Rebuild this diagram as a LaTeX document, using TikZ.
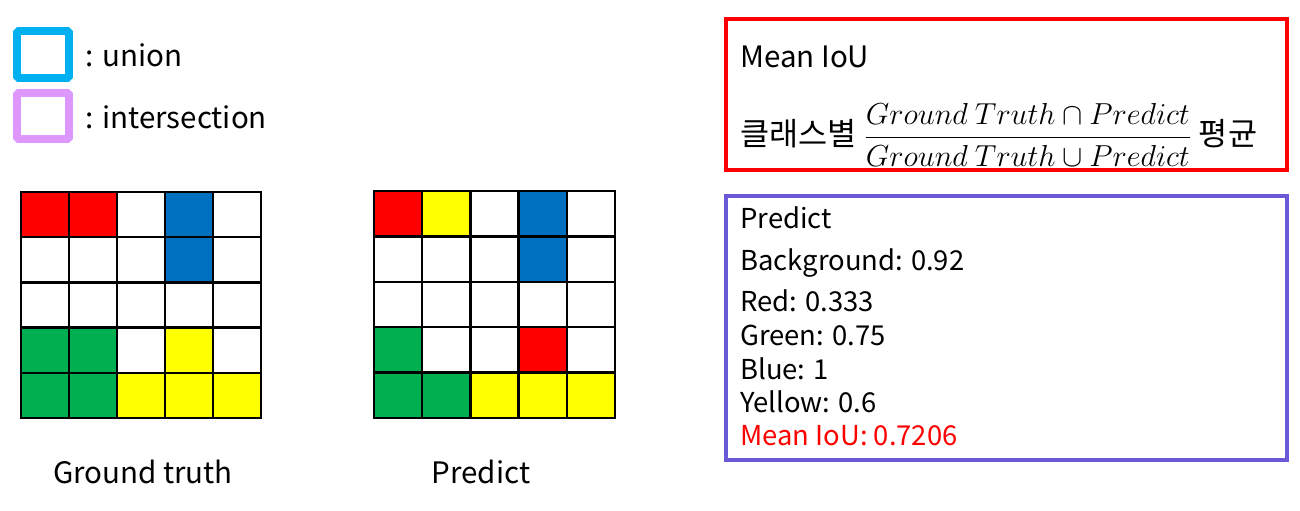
\documentclass[tikz,border=0pt]{standalone}
\usepackage{amsmath}
\usepackage{fontspec}
\setmainfont{Noto Sans CJK KR}
\usepackage{tikz}
\usepackage{xcolor}
\definecolor{gtred}{HTML}{FF0000}
\definecolor{gtblue}{HTML}{0070C0}
\definecolor{gtgreen}{HTML}{00B050}
\definecolor{gtyellow}{HTML}{FFFF00}
\definecolor{unionblue}{HTML}{00B0F0}
\definecolor{interpink}{HTML}{DD97FF}
\definecolor{boxpurple}{HTML}{6A5AD8}

\tikzset{
  txt/.style={inner sep=0pt, anchor=west, font=\fontsize{16.8pt}{20pt}\selectfont},
  score/.style={inner sep=0pt, anchor=west, font=\fontsize{15.6pt}{19pt}\selectfont},
  gridcap/.style={inner sep=0pt, font=\fontsize{16.8pt}{20pt}\selectfont},
  gridline/.style={line width=1.4pt, line cap=rect},
}

\begin{document}
\begin{tikzpicture}[x=0.02cm, y=-0.02cm]
  \useasboundingbox (0,0) rectangle (1300,510);

  % legend
  \draw[unionblue, line width=4.5pt, rounded corners=1pt] (17,31) rectangle (69,78);
  \draw[interpink, line width=4.5pt, rounded corners=1pt] (17,93) rectangle (69,139);
  \node[txt] (unionlbl) at (85,55) {: union};
  \node[txt] (interlbl) at (85,117) {: intersection};

  % ground truth grid
  \begin{scope}[shift={(21,192)}, xscale=48, yscale=45.2]
    \foreach \c/\r/\col in {0/0/gtred, 1/0/gtred, 3/0/gtblue, 3/1/gtblue,
                            0/3/gtgreen, 1/3/gtgreen, 3/3/gtyellow,
                            0/4/gtgreen, 1/4/gtgreen, 2/4/gtyellow, 3/4/gtyellow, 4/4/gtyellow} {
      \fill[\col] (\c,\r) rectangle +(1,1);
    }
    \foreach \i in {0,...,5} {
      \draw[gridline] (\i,0) -- (\i,5);
      \draw[gridline] (0,\i) -- (5,\i);
    }
  \end{scope}
  \node[gridcap] (gtlbl) at (143,472) {Ground truth};

  % predict grid
  \begin{scope}[shift={(374,191)}, xscale=48.2, yscale=45.4]
    \foreach \c/\r/\col in {0/0/gtred, 1/0/gtyellow, 3/0/gtblue, 3/1/gtblue,
                            0/3/gtgreen, 3/3/gtred,
                            0/4/gtgreen, 1/4/gtgreen, 2/4/gtyellow, 3/4/gtyellow, 4/4/gtyellow} {
      \fill[\col] (\c,\r) rectangle +(1,1);
    }
    \foreach \i in {0,...,5} {
      \draw[gridline] (\i,0) -- (\i,5);
      \draw[gridline] (0,\i) -- (5,\i);
    }
  \end{scope}
  \node[gridcap] (predlbl) at (481,472) {Predict};

  % mean IoU definition
  \draw[gtred, line width=2.8pt] (726,19) rectangle (1287,170);
  \node[txt] (miou) at (740,57) {Mean IoU};
  \node[txt, font=\fontsize{18pt}{22pt}\selectfont] (formula) at (740,135)
    {클래스별 $\dfrac{Ground\ Truth\cap Predict}{Ground\ Truth\cup Predict}$ 평균};

  % per class scores
  \draw[boxpurple, line width=2.8pt] (726,196) rectangle (1287,460);
  \node[score] (predhead) at (740,218) {Predict};
  \node[score] (bgscore) at (740,263) {Background: 0.92};
  \node[score] (redscore) at (740,301) {Red: 0.333};
  \node[score] (greenscore) at (740,335) {Green: 0.75};
  \node[score] (bluescore) at (740,369) {Blue: 1};
  \node[score] (yellowscore) at (740,402) {Yellow: 0.6};
  \node[score, text=gtred] (meanscore) at (740,436) {Mean IoU: 0.7206};
\end{tikzpicture}
\end{document}
